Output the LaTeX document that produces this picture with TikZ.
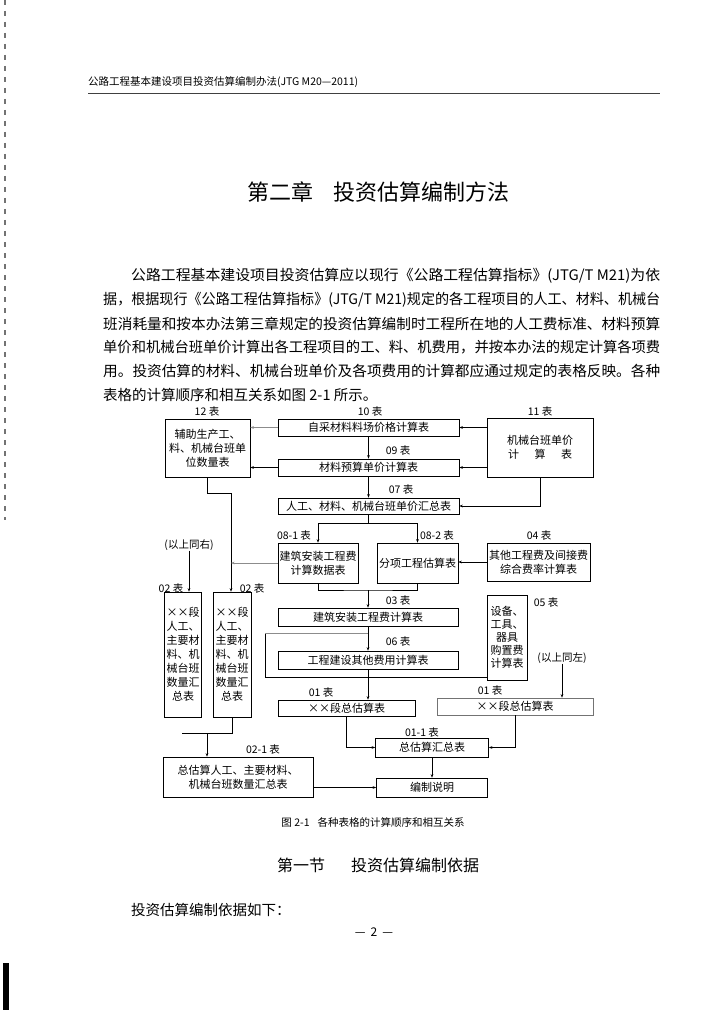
\documentclass[tikz,border=0pt]{standalone}
\usepackage{fontspec}
\setmainfont{Noto Sans CJK SC}
\usepackage{graphicx}
\usetikzlibrary{arrows.meta,positioning,calc}
\newcommand{\fitline}[2]{\resizebox{#1}{\height}{#2}}

\begin{document}
\begin{tikzpicture}[x=1pt, y=-1pt,
    tbl/.style={draw, line width=0.6pt, inner sep=0pt, align=center, font=\fontsize{11}{14}\selectfont},
    sz/.style 2 args={minimum width=#1pt, minimum height=#2pt},
    lbl/.style={inner sep=0pt, font=\fontsize{10.5}{12}\selectfont},
    bodytxt/.style={inner sep=0pt, anchor=west, font=\fontsize{14.5}{16}\selectfont},
    link/.style={line width=0.6pt},
    arr/.style={line width=0.6pt, -{Stealth[length=3.5pt,width=2.6pt]}},
    faint/.style={draw=black!45}
]
    \useasboundingbox (0,0) rectangle (726,1024);
    \fill[white] (0,0) rectangle (726,1024);
    % scan marks at the left edge
    \draw[black!55, line width=2.5pt, dash pattern=on 5pt off 6pt] (5,0) -- (5,520);
    \fill[black] (3,963) rectangle (9,1010);

    % page head
    \node[lbl, anchor=west] (hdr) at (88,82) {公路工程基本建设项目投资估算编制办法(JTG M20—2011)};
    \draw[line width=0.6pt, black!75] (88,93) -- (660,93);
    \node[inner sep=0pt, font=\fontsize{22}{24}\selectfont] (chap) at (378,192) {第二章\hspace{20pt}投资估算编制方法};

    % opening paragraph
    \node[bodytxt] (p1) at (131,276) {\fitline{529pt}{公路工程基本建设项目投资估算应以现行《公路工程估算指标》(JTG/T M21)为依}};
    \node[bodytxt] (p2) at (103,300) {\fitline{557pt}{据，根据现行《公路工程估算指标》(JTG/T M21)规定的各工程项目的人工、材料、机械台}};
    \node[bodytxt] (p3) at (103,324) {\fitline{557pt}{班消耗量和按本办法第三章规定的投资估算编制时工程所在地的人工费标准、材料预算}};
    \node[bodytxt] (p4) at (103,347.5) {\fitline{557pt}{单价和机械台班单价计算出各工程项目的工、料、机费用，并按本办法的规定计算各项费}};
    \node[bodytxt] (p5) at (103,371) {\fitline{557pt}{用。投资估算的材料、机械台班单价及各项费用的计算都应通过规定的表格反映。各种}};
    \node[bodytxt] (p6) at (103,395) {表格的计算顺序和相互关系如图 2-1 所示。};

    % tables, top rows
    \node[tbl, sz={85}{58}] (b12) at (207.5,448) {辅助生产工、\\料、机械台班单\\位数量表};
    \node[tbl, sz={181}{17}] (b10) at (368.5,427.5) {自采材料料场价格计算表};
    \node[tbl, sz={181}{17}] (b09) at (368.5,467.5) {材料预算单价计算表};
    \node[tbl, sz={106}{59}] (b11) at (540,447.5) {机械台班单价\\\makebox[64pt][s]{计\hfill 算\hfill 表}};
    \node[tbl, sz={181}{16}] (b07) at (368.5,506) {人工、材料、机械台班单价汇总表};
    \node[tbl, sz={80}{40}] (b081) at (318,563) {建筑安装工程费\\计算数据表};
    \node[tbl, sz={81}{40}] (b082) at (417.5,563) {分项工程估算表};
    \node[tbl, sz={103}{38}] (b04) at (538.5,562) {其他工程费及间接费\\综合费率计算表};

    % tables, middle rows
    \node[tbl, sz={37}{125}] (b021) at (183,654.5) {××段\\人工、\\主要材\\料、机\\械台班\\数量汇\\总表};
    \node[tbl, sz={38}{125}] (b022) at (232,654.5) {××段\\人工、\\主要材\\料、机\\械台班\\数量汇\\总表};
    \node[tbl, sz={180}{18}] (b03) at (368,617) {建筑安装工程费计算表};
    \node[tbl, sz={180}{18}] (b06) at (368,660) {工程建设其他费用计算表};
    \node[tbl, sz={40}{85}, font=\fontsize{11}{13}\selectfont] (b05) at (507,637.5) {设备、\\工具、\\器具\\购置费\\计算表};

    % tables, bottom rows
    \node[tbl, sz={137}{16}] (b01a) at (346.5,708) {××段总估算表};
    \node[tbl, sz={156}{17}, draw=black!55] (b01b) at (515,706.5) {××段总估算表};
    \node[tbl, sz={113}{19}] (b011) at (432,747.5) {总估算汇总表};
    \node[tbl, sz={111}{19}] (bsm) at (432,787.5) {编制说明};
    \node[tbl, sz={150}{40}] (b0201) at (238,777) {总估算人工、主要材料、\\机械台班数量汇总表};

    % table numbers
    \node[lbl] (n12) at (207,412) {12 表};
    \node[lbl] (n10) at (370,412) {10 表};
    \node[lbl] (n11) at (540,412) {11 表};
    \node[lbl] (n09) at (398,451) {09 表};
    \node[lbl] (n07) at (401,490) {07 表};
    \node[lbl] (n081) at (294,535) {08-1 表};
    \node[lbl] (n082) at (437,535) {08-2 表};
    \node[lbl] (n04) at (539,535) {04 表};
    \node[lbl] (same1) at (189,545) {(以上同右)};
    \node[lbl] (n02a) at (171,588) {02 表};
    \node[lbl] (n02b) at (252,588) {02 表};
    \node[lbl] (n03) at (398,600) {03 表};
    \node[lbl] (n05) at (546,602) {05 表};
    \node[lbl] (n06) at (398,641) {06 表};
    \node[lbl] (same2) at (562,658) {(以上同左)};
    \node[lbl] (n01a) at (321,692) {01 表};
    \node[lbl] (n01b) at (490,690) {01 表};
    \node[lbl] (n011) at (422,732) {01-1 表};
    \node[lbl] (n0201) at (263,749) {02-1 表};

    % connectors, upper part
    \draw[arr] (b11.west |- b10.east) -- (b10.east);
    \draw[arr] (b11.west |- b09.east) -- (b09.east);
    \draw[arr, faint] (b10.west) -- (b12.east |- b10.west);
    \draw[arr] (b09.west) -- (b12.east |- b09.west);
    \draw[arr] (b10.south) -- (b09.north);
    \draw[arr] (b09.south) -- (b07.north);
    \draw[arr] (b11.south) |- (b07.east);
    \coordinate (j07) at (368.5,523);
    \draw[link] (b07.south) -- (j07);
    \draw[arr] (j07) -| (b081.north);
    \draw[arr] (j07) -| (b082.north);
    \draw[arr] (b04.west) -- (b04.west -| b082.east);

    % connectors, middle part
    \coordinate (j08) at (368,590);
    \draw[link] (b081.south) |- (j08) -| (b082.south);
    \draw[arr] (j08) -- (b03.north);
    \draw[arr] (b03.south) -- (b06.north);
    \draw[arr] (b06.south) -- (b06.south |- b01a.north);
    \coordinate (j12) at (231,493);
    \draw[link] (b12.south) |- (j12);
    \draw[arr] (j12) -- (j12 |- b022.north);
    \draw[arr, faint] (b081.west) -- (b081.west -| j12);
    \draw[arr] (same1.south) -- (same1.south |- b021.north);
    \coordinate (k1) at (265,677);
    \coordinate (k2) at (265,633);
    \draw[link] (k1 -| b05.west) -- (k1) -- (k2);
    \draw[link, faint] (k2) -- (k2 -| b03.south);
    \draw[arr] (same2.south) -- (same2.south |- b01b.north);

    % connectors, lower part
    \coordinate (j02) at (182,733);
    \coordinate (j02b) at (207,733);
    \draw[link] (b022.south) |- (j02);
    \draw[arr] (j02b) -- (j02b |- b0201.north);
    \draw[arr] (b01a.south) |- (b011.west);
    \draw[arr] (b01b.south) |- (b011.east);
    \draw[arr] (b011.south) -- (bsm.north);
    \draw[arr] (b0201.east |- bsm.west) -- (bsm.west);

    % caption and following text
    \node[lbl] (cap) at (373,822) {图 2-1\hspace{8pt}各种表格的计算顺序和相互关系};
    \node[inner sep=0pt, font=\fontsize{16}{18}\selectfont] (sec) at (378,865) {第一节\hspace{26pt}投资估算编制依据};
    \node[bodytxt] (p7) at (131,910) {投资估算编制依据如下：};
    \node[inner sep=0pt, font=\fontsize{12}{14}\selectfont] (pg) at (374,932) {—\hspace{5pt}2\hspace{5pt}—};
\end{tikzpicture}
\end{document}
